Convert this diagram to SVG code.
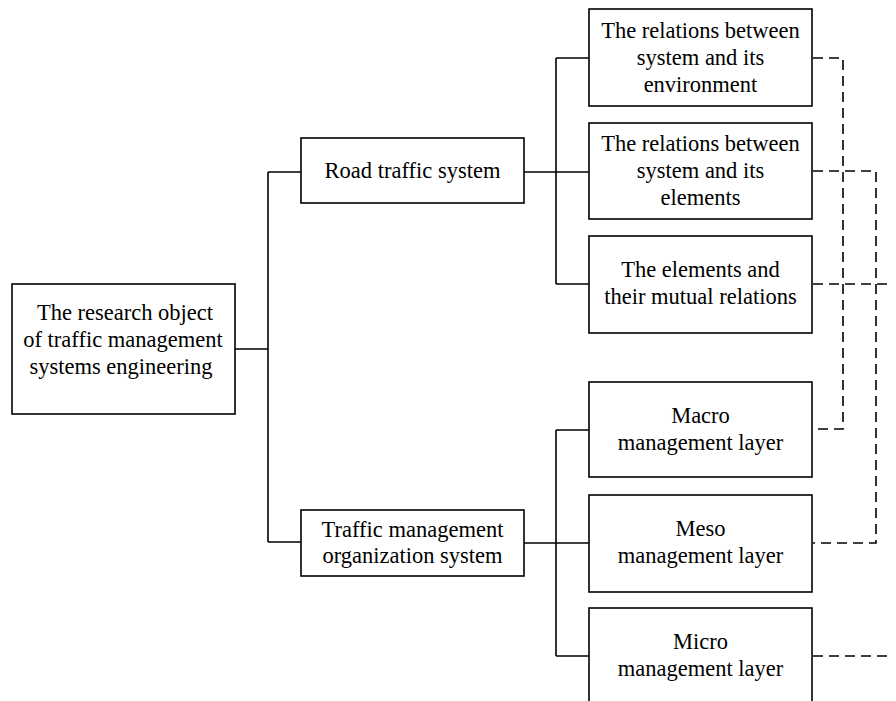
<svg xmlns="http://www.w3.org/2000/svg" width="896" height="701" viewBox="0 0 896 701">
<style>
.box{fill:#fff;stroke:#000;stroke-width:1.6}
.ln{fill:none;stroke:#000;stroke-width:1.6}
.dash{fill:none;stroke:#000;stroke-width:1.6;stroke-dasharray:10 6}
text{font-family:"Liberation Serif","Times New Roman",serif;font-size:22.5px;fill:#000;text-anchor:middle}
</style>
<rect width="896" height="701" fill="#fff"/>
<g id="connectors">
<path class="ln" d="M235 349H268M268 172V542M268 172H301M268 542H301"/>
<path class="ln" d="M524 172H589M556 58V284M556 58H589M556 284H589"/>
<path class="ln" d="M524 543H589M556 430V656M556 430H589M556 656H589"/>
<path class="dash" d="M813 58H843V429H813"/>
<path class="dash" d="M813 171H876V543H813"/>
<path class="dash" d="M813 284H889"/>
<path class="dash" d="M813 656H889"/>
</g>
<g id="root">
<rect class="box" x="12" y="284" width="223" height="130"/>
<text x="125" y="320">The research object</text>
<text x="123" y="347">of traffic management</text>
<text x="121" y="374">systems engineering</text>
</g>
<g id="road">
<rect class="box" x="301" y="138" width="223" height="65"/>
<text x="412.5" y="178">Road traffic system</text>
</g>
<g id="tmos">
<rect class="box" x="301" y="510" width="223" height="66"/>
<text x="412.5" y="537">Traffic management</text>
<text x="412.5" y="563">organization system</text>
</g>
<g id="env">
<rect class="box" x="589" y="9" width="223" height="97"/>
<text x="700.5" y="38">The relations between</text>
<text x="700.5" y="65">system and its</text>
<text x="700.5" y="92">environment</text>
</g>
<g id="elem">
<rect class="box" x="589" y="123" width="223" height="96"/>
<text x="700.5" y="151">The relations between</text>
<text x="700.5" y="178">system and its</text>
<text x="700.5" y="205">elements</text>
</g>
<g id="mutual">
<rect class="box" x="589" y="236" width="223" height="97"/>
<text x="700.5" y="277">The elements and</text>
<text x="700.5" y="304">their mutual relations</text>
</g>
<g id="macro">
<rect class="box" x="589" y="382" width="223" height="95"/>
<text x="700.5" y="423">Macro</text>
<text x="700.5" y="450">management layer</text>
</g>
<g id="meso">
<rect class="box" x="589" y="495" width="223" height="97"/>
<text x="700.5" y="536">Meso</text>
<text x="700.5" y="563">management layer</text>
</g>
<g id="micro">
<rect class="box" x="589" y="608" width="223" height="110"/>
<text x="700.5" y="649">Micro</text>
<text x="700.5" y="676">management layer</text>
</g>
</svg>
